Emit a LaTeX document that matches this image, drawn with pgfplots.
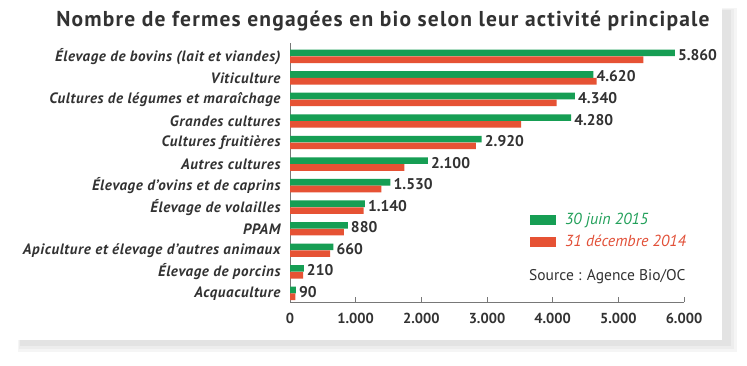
\documentclass[border=0pt]{standalone}
\usepackage{pgfplots}
\pgfplotsset{compat=1.18}
\usepackage{fontspec}
\setmainfont{PT Sans}
\definecolor{cgreen}{RGB}{22,158,84}
\definecolor{cred}{RGB}{230,82,52}
\definecolor{tgreen}{RGB}{34,160,90}
\definecolor{tred}{RGB}{226,80,56}
\definecolor{txt}{RGB}{50,50,50}
\definecolor{axgray}{RGB}{120,120,120}
\begin{document}
\begin{tikzpicture}[x=1pt,y=1pt]
\useasboundingbox (0,0) rectangle (747,-365);
% card shadow
\fill[black!4] (18,-8) rectangle (737,-352);
\fill[black!7] (19,-9) rectangle (734,-349);
\fill[black!11] (20,-10) rectangle (731,-346);
\fill[white] (14,-4) rectangle (722,-340);
\node[font=\bfseries\fontsize{21.5}{24}\selectfont\addfontfeature{LetterSpace=5.5}, text=txt] at (383,-21) {Nombre de fermes engagées en bio selon leur activité principale};
\begin{axis}[
  at={(290pt,-302pt)}, anchor=south west,
  scale only axis, width=394pt, height=258.6pt,
  xmin=0, xmax=6000, ymin=-0.4, ymax=11.6,
  xbar, bar width=6.6pt,
  axis x line*=bottom, axis y line*=left,
  axis line style={axgray, line width=0.9pt},
  x axis line style={-}, y axis line style={-},
  xtick={0,1000,...,6000},
  xtick align=inside, major tick length=5pt,
  xtick style={axgray, line width=0.8pt},
  ytick={0,...,11}, ytick style={draw=none},
  yticklabels={Acquaculture, Élevage de porcins, Apiculture et élevage d’autres animaux, PPAM, Élevage de volailles, Élevage d’ovins et de caprins, Autres cultures, Cultures fruitières, Grandes cultures, Cultures de légumes et maraîchage, Viticulture, Élevage de bovins (lait et viandes)},
  yticklabel style={font=\bfseries\itshape\fontsize{15}{17}\selectfont\addfontfeature{LetterSpace=4}, text=txt, xshift=-1pt},
  xticklabel style={font=\bfseries\fontsize{14.5}{16}\selectfont, text=txt, yshift=-8pt},
  /pgf/number format/.cd, 1000 sep={.}, assume math mode=true, /pgfplots/.cd,
  legend style={at={(0.609,0.344)}, anchor=north west, draw=none, fill=none,
    font=\itshape\fontsize{16}{18}\selectfont, row sep=9pt, inner sep=0pt,
    nodes={inner xsep=9pt, inner ysep=0pt}},
  legend cell align=left,
  legend image code/.code={\fill[#1,draw=none] (0pt,-5pt) rectangle (26pt,5pt);},
]
\addplot[fill=cgreen, draw=none, bar shift=3.4pt,
  nodes near coords, nodes near coords align={horizontal},
  every node near coord/.append style={font=\bfseries\fontsize{15.5}{17}\selectfont, text=txt, anchor=west, inner xsep=3pt, yshift=-2pt}]
  coordinates {(5860,11) (4620,10) (4340,9) (4280,8) (2920,7) (2100,6) (1530,5) (1140,4) (880,3) (660,2) (210,1) (90,0)};
\addlegendentry{\textcolor{tgreen}{30 juin 2015}}
\addplot[fill=cred, draw=none, bar shift=-3.4pt]
  coordinates {(5380,11) (4670,10) (4060,9) (3520,8) (2830,7) (1740,6) (1390,5) (1120,4) (820,3) (610,2) (200,1) (80,0)};
\addlegendentry{\textcolor{tred}{31 décembre 2014}}
\end{axis}
\node[anchor=west, font=\fontsize{15.5}{18}\selectfont, text=txt, inner sep=0pt] at (529,-277) {Source : Agence Bio/OC};
\end{tikzpicture}
\end{document}
